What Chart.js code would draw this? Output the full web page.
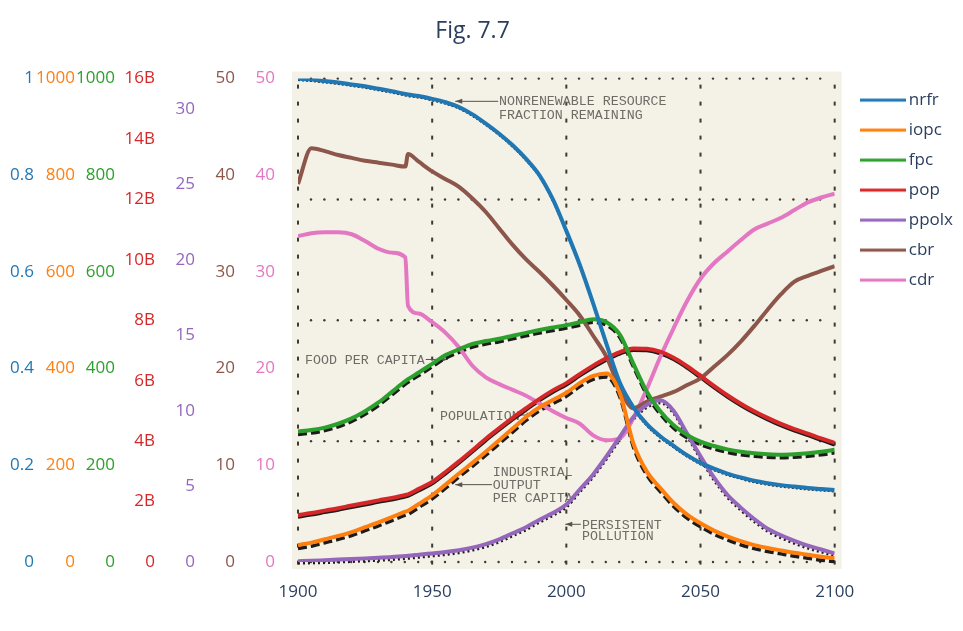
<!DOCTYPE html>
<html>
<head>
<meta charset="utf-8">
<script src="https://cdn.jsdelivr.net/npm/chart.js@4.4.1/dist/chart.umd.min.js"></script>
<style>
  html, body { margin: 0; padding: 0; background: #fff; }
  #wrap { width: 963px; height: 631px; }
</style>
</head>
<body>
<div id="wrap"><canvas id="chart"></canvas></div>
<script>
// World3 standard run
const years = [1900, 1905, 1910, 1915, 1920, 1925, 1930, 1935, 1940, 1941,
  1945, 1950, 1955, 1960, 1965, 1970, 1975, 1980, 1985, 1990, 1995, 2000,
  2005, 2010, 2015, 2020, 2025, 2030, 2035, 2040, 2045, 2050, 2055, 2060,
  2065, 2070, 2075, 2080, 2085, 2090, 2095, 2100];

const nrfr = [1.0, 0.998, 0.995, 0.992, 0.988, 0.984, 0.979, 0.974, 0.968, 0.967,
  0.964, 0.958, 0.951, 0.941, 0.926, 0.907, 0.886, 0.862, 0.834, 0.80, 0.75, 0.685,
  0.615, 0.535, 0.45, 0.37, 0.32, 0.285, 0.26, 0.24, 0.221, 0.205, 0.193, 0.183,
  0.175, 0.168, 0.163, 0.159, 0.156, 0.153, 0.151, 0.149];

const iopc = [35, 40, 47, 54, 62, 72, 82, 93, 104, 106,
  120, 138, 160, 183, 205, 228, 252, 276, 300, 320, 335, 350,
  370, 385, 390, 348, 245, 187, 153, 122, 98, 80, 65, 53,
  43, 35, 29, 24, 19, 15, 11, 8];

const fpc = [270, 273, 278, 286, 297, 312, 330, 352, 374, 378,
  392, 410, 428, 440, 451, 457, 462, 468, 474, 480, 485, 490,
  496, 502, 496, 470, 410, 352, 312, 283, 263, 249, 240, 233,
  228, 225, 223, 222, 223, 225, 228, 232];

const pop = [1.55e9, 1.62e9, 1.70e9, 1.78e9, 1.87e9, 1.95e9, 2.04e9, 2.12e9, 2.22e9, 2.24e9,
  2.42e9, 2.65e9, 2.98e9, 3.33e9, 3.70e9, 4.08e9, 4.43e9, 4.77e9, 5.09e9, 5.40e9, 5.68e9, 5.92e9,
  6.22e9, 6.50e9, 6.75e9, 6.95e9, 7.07e9, 7.06e9, 6.96e9, 6.76e9, 6.48e9, 6.16e9, 5.83e9, 5.52e9,
  5.24e9, 4.99e9, 4.77e9, 4.57e9, 4.40e9, 4.25e9, 4.09e9, 3.94e9];

const ppolx = [0.05, 0.08, 0.12, 0.16, 0.2, 0.24, 0.28, 0.33, 0.4, 0.41,
  0.48, 0.57, 0.66, 0.78, 0.95, 1.18, 1.5, 1.9, 2.3, 2.8, 3.25, 3.8,
  4.8, 5.8, 7.0, 8.3, 9.6, 10.4, 10.7, 10.0, 8.5, 7.0, 5.6, 4.45,
  3.6, 2.85, 2.2, 1.77, 1.4, 1.08, 0.83, 0.57];

const cbr = [39.1, 42.8, 42.5, 42.1, 41.8, 41.5, 41.3, 41.1, 40.9, 42.2,
  41.4, 40.4, 39.6, 38.8, 37.6, 36.2, 34.5, 32.8, 31.3, 30.0, 28.6, 27.1,
  25.5, 23.4, 21.2, 17.9, 15.9, 16.6, 17.1, 17.6, 18.3, 19.0, 20.2, 21.4,
  22.8, 24.4, 26.1, 27.7, 29.0, 29.6, 30.1, 30.6];

const cdr = [33.7, 34.0, 34.1, 34.1, 33.9, 33.2, 32.4, 32.0, 31.5, 26.5,
  25.7, 24.8, 23.7, 22.2, 20.3, 19.1, 18.4, 17.8, 17.2, 16.4, 15.6, 14.9,
  14.3, 13.1, 12.6, 12.8, 14.9, 17.9, 21.2, 24.2, 27.0, 29.3, 30.9, 32.1,
  33.3, 34.4, 35.0, 35.6, 36.4, 37.2, 37.7, 38.1];

const xTicks = [1900, 1950, 2000, 2050, 2100];

const colors = {
  nrfr: '#1f77b4', iopc: '#ff7f0e', fpc: '#2ca02c', pop: '#d62728',
  ppolx: '#9467bd', cbr: '#8c564b', cdr: '#e377c2'
};

// the scanned plate behind the curves: its dotted grid and typed captions
const plateNotes = [
  { text: 'NONRENEWABLE RESOURCE', x: 1974.9, y: 0.952 },
  { text: 'FRACTION REMAINING', x: 1974.9, y: 0.923 },
  { text: 'FOOD PER CAPITA', x: 1902.6, y: 0.417 },
  { text: 'POPULATION', x: 1952.9, y: 0.302 },
  { text: 'INDUSTRIAL', x: 1972.6, y: 0.185 },
  { text: 'OUTPUT', x: 1972.6, y: 0.159 },
  { text: 'PER CAPITA', x: 1972.6, y: 0.131 },
  { text: 'PERSISTENT', x: 2005.8, y: 0.075 },
  { text: 'POLLUTION', x: 2005.8, y: 0.052 }
];
const plateArrows = [
  { from: 1974.6, to: 1958.6, y: 0.953 },
  { from: 1947.6, to: 1955.8, y: 0.419 },
  { from: 1982.6, to: 1987.8, y: 0.304 },
  { from: 1972.3, to: 1958.6, y: 0.160 },
  { from: 2005.4, to: 1999.6, y: 0.078 }
];

const plate = {
  id: 'plate',
  beforeDatasetsDraw(chart) {
    const { ctx, chartArea: a, scales } = chart;
    const sx = scales.x, sy = scales.nrfr;
    ctx.save();
    ctx.fillStyle = '#f4f1e7';
    ctx.fillRect(a.left - 6, a.top - 7, a.width + 13, a.height + 14);

    ctx.fillStyle = '#3c3a36';
    [0, 0.25, 0.5, 0.75, 1].forEach(f => {
      const y = sy.getPixelForValue(f);
      for (let x = a.left + 13; x < a.right - 4; x += 13.4) {
        ctx.beginPath();
        ctx.arc(x, y, 1.2, 0, Math.PI * 2);
        ctx.fill();
      }
    });
    xTicks.forEach(yr => {
      const x = sx.getPixelForValue(yr);
      for (let y = a.top + 6; y < a.bottom; y += 17) {
        ctx.fillRect(x - 1, y, 2, 4);
      }
    });

    ctx.fillStyle = '#6e6c66';
    ctx.font = '13.3px "Liberation Mono", "DejaVu Sans Mono", monospace';
    ctx.textBaseline = 'middle';
    plateNotes.forEach(n => {
      ctx.fillText(n.text, sx.getPixelForValue(n.x), sy.getPixelForValue(n.y));
    });
    ctx.strokeStyle = '#55534e';
    ctx.fillStyle = '#55534e';
    ctx.lineWidth = 1;
    plateArrows.forEach(ar => {
      const x0 = sx.getPixelForValue(ar.from), x1 = sx.getPixelForValue(ar.to);
      const y = sy.getPixelForValue(ar.y);
      const d = x1 > x0 ? 1 : -1;
      ctx.beginPath();
      ctx.moveTo(x0, y);
      ctx.lineTo(x1, y);
      ctx.stroke();
      ctx.beginPath();
      ctx.moveTo(x1, y);
      ctx.lineTo(x1 - d * 7, y - 2.5);
      ctx.lineTo(x1 - d * 7, y + 2.5);
      ctx.closePath();
      ctx.fill();
    });
    ctx.restore();
  },
  // the printed black curves sit a touch below the coloured ones
  beforeDatasetDraw(chart, args) {
    const dy = args.meta._dataset.printDrop;
    if (dy) {
      chart.ctx.save();
      chart.ctx.translate(0, dy);
    }
  },
  afterDatasetDraw(chart, args) {
    if (args.meta._dataset.printDrop) chart.ctx.restore();
  }
};

// legend sample: a short line, pushed right inside its swatch
function swatch(color) {
  const c = document.createElement('canvas');
  c.width = 64;
  c.height = 6;
  const g = c.getContext('2d');
  g.fillStyle = color;
  g.fillRect(18, 1.5, 46, 3);
  return c;
}

function series(label, values) {
  return {
    label: label,
    data: years.map((yr, i) => ({ x: yr, y: values[i] })),
    yAxisID: label,
    borderColor: colors[label],
    backgroundColor: colors[label],
    borderWidth: 4,
    pointRadius: 0,
    pointStyle: swatch(colors[label]),
    cubicInterpolationMode: 'monotone',
    order: 0
  };
}

function printed(key, values, dash, width, drop) {
  return {
    label: key + ' (print)',
    data: years.map((yr, i) => ({ x: yr, y: values[i] })),
    yAxisID: key,
    borderColor: '#1e1c1a',
    borderWidth: width,
    borderDash: dash,
    pointRadius: 0,
    cubicInterpolationMode: 'monotone',
    printDrop: drop,
    order: 1
  };
}

function sideAxis(key, max, step, weight, width, pad, fmt) {
  return {
    type: 'linear',
    position: 'left',
    min: 0,
    max: max,
    weight: weight,
    grid: { display: false, drawTicks: false },
    border: { display: false },
    ticks: {
      stepSize: step,
      includeBounds: false,
      color: colors[key],
      padding: pad,
      font: { size: 17 },
      callback: fmt
    },
    afterFit(scale) { scale.width = width; }
  };
}

Chart.defaults.font.family = '"Open Sans", "Noto Sans", sans-serif';

new Chart(document.getElementById('chart'), {
  type: 'line',
  data: {
    datasets: [
      series('nrfr', nrfr),
      series('iopc', iopc),
      series('fpc', fpc),
      series('pop', pop),
      series('ppolx', ppolx),
      series('cbr', cbr),
      series('cdr', cdr),
      printed('nrfr', nrfr, [2, 2], 2, 1.5),
      printed('iopc', iopc, [9, 4], 3.5, 3.5),
      printed('fpc', fpc, [9, 4], 3.5, 3),
      printed('pop', pop, [], 3, 2),
      printed('ppolx', ppolx, [2, 3], 3, 2.5)
    ]
  },
  options: {
    responsive: true,
    maintainAspectRatio: false,
    animation: false,
    layout: { padding: { left: 0, bottom: 8.6, right: 0 } },
    scales: {
      x: {
        type: 'linear',
        min: 1900,
        max: 2100,
        grid: { display: false, drawTicks: false },
        border: { display: false },
        ticks: {
          stepSize: 50,
          padding: 20,
          color: '#2a3f5f',
          font: { size: 17 },
          callback: v => String(v)
        }
      },
      nrfr: sideAxis('nrfr', 1, 0.2, 7, 36, 2, v => String(+v.toFixed(1))),
      iopc: sideAxis('iopc', 1000, 200, 6, 40, 1, v => String(v)),
      fpc: sideAxis('fpc', 1000, 200, 5, 42, 3, v => String(v)),
      pop: sideAxis('pop', 16e9, 2e9, 4, 40, 3, v => v === 0 ? '0' : (v / 1e9) + 'B'),
      ppolx: sideAxis('ppolx', 32, 5, 3, 40, 3, v => String(v)),
      cbr: sideAxis('cbr', 50, 10, 2, 40, 3, v => String(v)),
      cdr: sideAxis('cdr', 50, 10, 1, 60, 23, v => String(v))
    },
    plugins: {
      title: {
        display: true,
        text: 'Fig. 7.7\u00a0\u00a0\u00a0',
        color: '#2a3f5f',
        font: { size: 23, weight: 'normal' },
        padding: { top: 18, bottom: 33 }
      },
      legend: {
        position: 'right',
        align: 'start',
        fullSize: false,
        maxWidth: 200,
        labels: {
          usePointStyle: true,
          pointStyleWidth: 52.6,
          color: '#2a3f5f',
          font: { size: 17 },
          padding: 13,
          filter: (item, data) => !data.datasets[item.datasetIndex].printDrop
        }
      },
      tooltip: { enabled: false }
    }
  },
  plugins: [plate]
});
</script>
</body>
</html>
